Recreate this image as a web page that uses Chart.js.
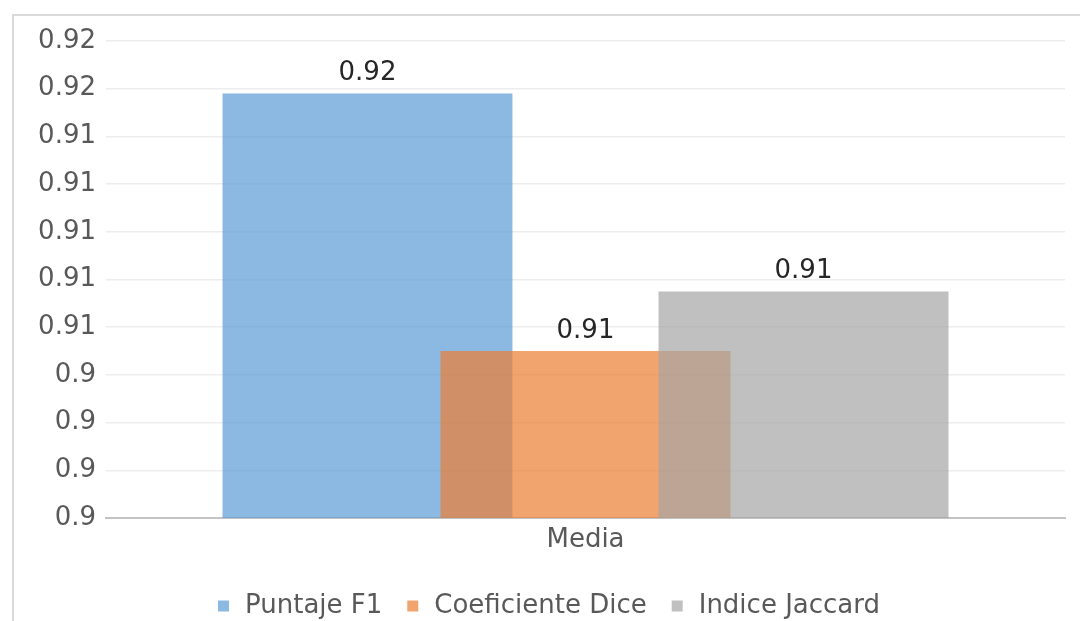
<!DOCTYPE html>
<html>
<head>
<meta charset="utf-8">
<script src="https://cdn.jsdelivr.net/npm/chart.js@4.4.1/dist/chart.umd.min.js"></script>
<style>
  html, body { margin: 0; padding: 0; background: #fff; overflow: hidden; width: 1080px; height: 621px; }
  #frame { position: absolute; left: 12px; top: 14px; width: 1200px; height: 800px;
           border-left: 2px solid #dadada; border-top: 2px solid #dadada; }
  #wrap { position: absolute; left: 0; top: 0; width: 1080px; height: 629px; }
</style>
</head>
<body>
<div id="frame"></div>
<div id="wrap"><canvas id="chart"></canvas></div>
<script>
// Categories and series
const categories = ['Media'];
const seriesNames = ['Puntaje F1', 'Coeficiente Dice', 'Indice Jaccard'];
const f1Values = [0.9158];
const diceValues = [0.9050];
const jaccardValues = [0.9075];

// Value axis range
const yMin = 0.898;
const yMax = 0.918;
const yStep = 0.002;

const seriesColors = [
  'rgba(91, 155, 213, 0.7)',
  'rgba(237, 125, 49, 0.7)',
  'rgba(165, 165, 165, 0.7)'
];

const FONT = 'DejaVu Sans';
const FONT_SIZE = 26;
const fmt = v => Number(v.toFixed(2)).toString();

// Bars overlap, so draw them left to right (right-hand bar on top) and label them
const barPainter = {
  id: 'barPainter',
  beforeDatasetsDraw(chart) {
    const ctx = chart.ctx;
    const a = chart.chartArea;
    ctx.save();
    ctx.beginPath();
    ctx.rect(a.left, a.top, a.right - a.left, a.bottom - a.top);
    ctx.clip();
    for (const meta of chart.getSortedVisibleDatasetMetas()) meta.controller.draw();
    ctx.restore();
    return false;
  },
  afterDraw(chart) {
    const ctx = chart.ctx;
    ctx.save();
    ctx.font = FONT_SIZE + 'px "' + FONT + '"';
    ctx.fillStyle = '#262626';
    ctx.textAlign = 'center';
    ctx.textBaseline = 'alphabetic';
    chart.getSortedVisibleDatasetMetas().forEach(meta => {
      const ds = chart.data.datasets[meta.index];
      meta.data.forEach((bar, i) => {
        ctx.fillText(fmt(ds.data[i]), bar.x, bar.y - 13);
      });
    });
    ctx.restore();
  }
};

const datasets = [f1Values, diceValues, jaccardValues].map((vals, i) => ({
  label: seriesNames[i],
  data: vals,
  backgroundColor: seriesColors[i],
  borderWidth: 0,
  categoryPercentage: 0.682,
  barPercentage: 1.33
}));

new Chart(document.getElementById('chart'), {
  type: 'bar',
  data: { labels: categories, datasets },
  plugins: [barPainter],
  options: {
    responsive: true,
    maintainAspectRatio: false,
    animation: false,
    layout: { padding: { left: 30, right: 15, top: 41, bottom: 0 } },
    scales: {
      x: {
        grid: { display: false, drawTicks: false },
        border: { display: true, color: '#c3c3c3', width: 2 },
        ticks: { font: { family: FONT, size: FONT_SIZE }, color: '#595959', padding: 7 },
        afterFit(s) { s.height = s.chart.height - 518 - s.chart.legend.height; }
      },
      y: {
        min: yMin,
        max: yMax,
        ticks: {
          stepSize: yStep,
          font: { family: FONT, size: FONT_SIZE },
          color: '#595959',
          padding: 10,
          callback: v => fmt(v)
        },
        grid: { color: '#ededed', lineWidth: 1.5, drawTicks: false },
        border: { display: false },
        afterFit(s) { s.width = 76; }
      }
    },
    plugins: {
      tooltip: { enabled: false },
      legend: {
        position: 'bottom',
        labels: {
          font: { family: FONT, size: FONT_SIZE },
          color: '#595959',
          boxWidth: 17,
          boxHeight: 17,
          padding: 22,
          generateLabels(chart) {
            return chart.data.datasets.map((ds, i) => ({
              text: ds.label,
              fillStyle: ds.backgroundColor,
              strokeStyle: '#ffffff',
              lineWidth: 6,
              fontColor: '#595959',
              datasetIndex: i,
              hidden: false
            }));
          }
        }
      }
    }
  }
});
</script>
</body>
</html>
